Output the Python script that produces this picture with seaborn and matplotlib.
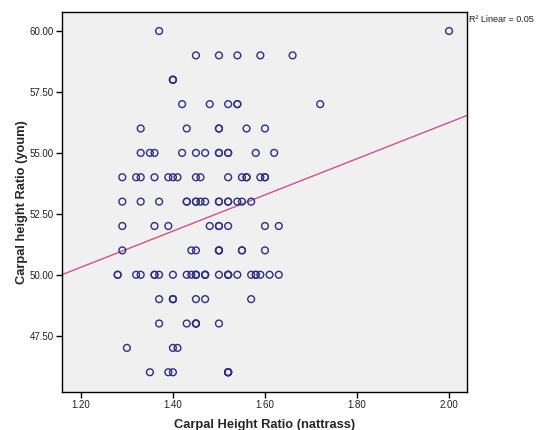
import numpy as np
import pandas as pd
import matplotlib
matplotlib.use("Agg")
import matplotlib.pyplot as plt
import seaborn as sns

# Carpal height ratios (nattrass), one line per youm value, top row first
nattrass = [
    1.37, 2.00,
    1.45, 1.50, 1.54, 1.59, 1.66,
    1.40, 1.40, 1.40,
    1.42, 1.48, 1.52, 1.54, 1.54, 1.72,
    1.33, 1.43, 1.50, 1.50, 1.56, 1.60,
    1.33, 1.35, 1.36, 1.42, 1.45, 1.47, 1.50, 1.50, 1.52, 1.52, 1.58, 1.62,
    1.29, 1.32, 1.33, 1.36, 1.39, 1.40, 1.41, 1.45, 1.46, 1.52, 1.55, 1.56, 1.56, 1.59, 1.60, 1.60,
    1.29, 1.33, 1.37, 1.43, 1.43, 1.45, 1.45, 1.46, 1.47, 1.50, 1.50, 1.52, 1.52, 1.54, 1.55, 1.57,
    1.29, 1.36, 1.39, 1.48, 1.50, 1.50, 1.52, 1.60, 1.63,
    1.29, 1.44, 1.45, 1.50, 1.50, 1.50, 1.55, 1.55, 1.60,
    1.28, 1.28, 1.32, 1.33, 1.36, 1.36, 1.37, 1.40, 1.43, 1.44, 1.45, 1.45, 1.45, 1.47, 1.47, 1.47,
    1.50, 1.52, 1.52, 1.52, 1.54, 1.57, 1.58, 1.58, 1.59, 1.61, 1.63,
    1.37, 1.40, 1.40, 1.40, 1.45, 1.47, 1.57,
    1.37, 1.43, 1.45, 1.45, 1.45, 1.50,
    1.30, 1.40, 1.41,
    1.35, 1.39, 1.40, 1.52, 1.52, 1.52, 1.52,
]
youm_levels = [60, 59, 58, 57, 56, 55, 54, 53, 52, 51, 50, 49, 48, 47, 46]
youm_counts = [2, 5, 3, 6, 6, 12, 16, 16, 9, 9, 27, 7, 6, 3, 7]
youm = np.repeat(youm_levels, youm_counts).astype(float)

x_ticks = [1.20, 1.40, 1.60, 1.80, 2.00]
y_ticks = [47.5, 50.0, 52.5, 55.0, 57.5, 60.0]

df = pd.DataFrame({"nattrass": nattrass, "youm": youm})

sns.set_style("white")
plt.rcParams["font.family"] = ["Liberation Sans", "DejaVu Sans"]

fig = plt.figure(figsize=(5.37, 4.30), dpi=100)
ax = fig.add_axes([62 / 537, 1 - 392 / 430, 405 / 537, 380 / 430])
ax.set_facecolor("#f0f0f0")

sns.scatterplot(data=df, x="nattrass", y="youm", ax=ax, marker="o",
                facecolors="none", edgecolor="#2b2f86", linewidth=1.0, s=24,
                legend=False, zorder=3)

ax.set_xlim(1.159, 2.039)
ax.set_ylim(45.19, 60.78)

# least-squares fit line across the full axis width
sns.regplot(data=df, x="nattrass", y="youm", ax=ax, scatter=False, ci=None,
            truncate=False, color="#d0508c",
            line_kws={"color": "#d0508c", "linewidth": 1.0})
ax.set_xlim(1.159, 2.039)
ax.set_ylim(45.19, 60.78)

ax.set_xticks(x_ticks)
ax.set_xticklabels([f"{v:.2f}" for v in x_ticks])
ax.set_yticks(y_ticks)
ax.set_yticklabels([f"{v:.2f}" for v in y_ticks])
ax.tick_params(axis="both", which="major", direction="out", length=4, width=1,
               color="black", labelsize=7, labelcolor="#222222", pad=2,
               bottom=True, left=True)
for sp in ax.spines.values():
    sp.set_color("black")
    sp.set_linewidth(1.0)

ax.set_xlabel("Carpal Height Ratio (nattrass)", fontsize=9.3, fontweight="bold",
              labelpad=6)
ax.set_ylabel("Carpal height Ratio (youm)", fontsize=9.3, fontweight="bold",
              labelpad=1)

r = np.corrcoef(df["nattrass"], df["youm"])[0, 1]
fig.text(469 / 537, 1 - 20 / 430, f"R² Linear = {r**2:.2f}", fontsize=6.5,
         ha="left", va="center", color="#222222")

fig.savefig("out.png", dpi=100)
